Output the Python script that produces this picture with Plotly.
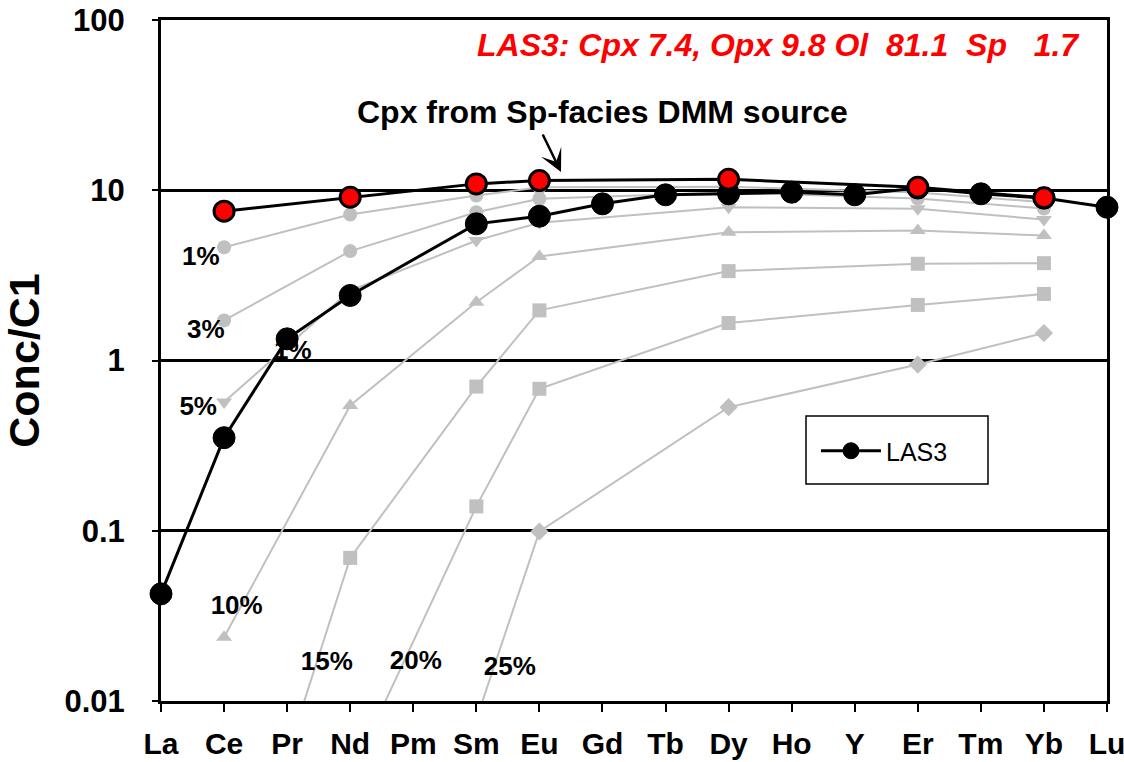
import plotly.graph_objects as go

# REE + Y order along the x axis
elements = ["La", "Ce", "Pr", "Nd", "Pm", "Sm", "Eu", "Gd", "Tb", "Dy",
            "Ho", "Y", "Er", "Tm", "Yb", "Lu"]

# Measured clinopyroxene, chondrite normalised
las3_el = ["La", "Ce", "Pr", "Nd", "Sm", "Eu", "Gd", "Tb", "Dy", "Ho",
           "Y", "Er", "Tm", "Yb", "Lu"]
las3_val = [0.0426, 0.352, 1.34, 2.41, 6.35, 7.04, 8.32, 9.40, 9.53, 9.74,
            9.40, 10.3, 9.53, 9.0, 7.95]

# Cpx in the spinel-facies DMM source
model_el = ["Ce", "Nd", "Sm", "Eu", "Dy", "Er", "Yb"]
source_val = [7.53, 9.10, 10.9, 11.4, 11.6, 10.4, 9.03]

# Residual cpx after fractional melting of the source
melt_1 = [4.63, 7.20, 9.31, 10.4, 10.5, 9.7, 8.5]
melt_3 = [1.72, 4.39, 7.43, 8.91, 9.70, 8.94, 7.81]
melt_5 = [0.57, 2.57, 5.07, 6.45, 7.95, 7.78, 6.73]
melt_10 = [0.0237, 0.544, 2.20, 4.08, 5.67, 5.80, 5.42]
melt_15 = [0.00034, 0.0693, 0.703, 1.97, 3.35, 3.70, 3.73]
melt_20_el = ["Nd", "Sm", "Eu", "Dy", "Er", "Yb"]
melt_20 = [0.0036, 0.139, 0.682, 1.66, 2.12, 2.46]
melt_25_el = ["Sm", "Eu", "Dy", "Er", "Yb"]
melt_25 = [0.0078, 0.099, 0.532, 0.947, 1.45]

# Melting-degree labels: (text, position along the element axis, value)
pct_labels = [("1%", 0.63, 3.97), ("3%", 0.71, 1.48), ("5%", 0.59, 0.52),
              ("10%", 1.2, 0.0354), ("15%", 2.63, 0.0166),
              ("20%", 4.04, 0.0168), ("25%", 5.53, 0.0155),
              ("1%", 2.09, 1.11)]

FONT = "Liberation Sans, Arial, sans-serif"
GREY = "#c0c0c0"

fig = go.Figure()

melts = [
    (model_el, melt_1, "circle"),
    (model_el, melt_3, "circle"),
    (model_el, melt_5, "triangle-down"),
    (model_el, melt_10, "triangle-up"),
    (model_el, melt_15, "square"),
    (melt_20_el, melt_20, "square"),
    (melt_25_el, melt_25, "diamond"),
]
for xs, ys, sym in melts:
    fig.add_trace(go.Scatter(
        x=xs, y=ys, mode="lines+markers", showlegend=False,
        line=dict(color=GREY, width=2),
        marker=dict(symbol=sym, size=14, color=GREY, line=dict(width=0)),
    ))

# Degree-of-melting labels drawn beneath the sample curve
fig.add_trace(go.Scatter(
    x=[p[1] for p in pct_labels],
    y=[p[2] for p in pct_labels],
    mode="text", text=[p[0] for p in pct_labels], showlegend=False,
    textfont=dict(family=FONT, size=26, color="black", weight="bold"),
    xaxis="x2", cliponaxis=False,
))

fig.add_trace(go.Scatter(
    x=las3_el, y=las3_val, mode="lines+markers", name="LAS3",
    line=dict(color="black", width=3),
    marker=dict(symbol="circle", size=22, color="black",
                line=dict(color="black", width=1)),
    cliponaxis=False,
))

fig.add_trace(go.Scatter(
    x=model_el, y=source_val, mode="lines+markers", showlegend=False,
    line=dict(color="black", width=3),
    marker=dict(symbol="circle", size=20, color="#ff0000",
                line=dict(color="black", width=3)),
    cliponaxis=False,
))

fig.update_layout(
    width=1124, height=762,
    margin=dict(l=161, r=17, t=20, b=61),
    paper_bgcolor="white", plot_bgcolor="white",
    font=dict(family=FONT, color="black"),
    xaxis=dict(
        type="category", categoryorder="array", categoryarray=elements,
        range=[0, 15], showgrid=False, showline=True, linecolor="black",
        linewidth=3, mirror=True, ticks="outside", ticklen=8, tickwidth=2,
        tickcolor="black", tickfont=dict(family=FONT, size=30, weight="bold"),
        ticklabelstandoff=6, zeroline=False, automargin=False,
    ),
    xaxis2=dict(range=[0, 15], overlaying="x", visible=False),
    yaxis=dict(
        type="log", range=[-2, 2], showline=True, linecolor="black",
        linewidth=3, mirror=True, showgrid=True, gridcolor="black",
        gridwidth=2.5, tickvals=[0.01, 0.1, 1, 10, 100],
        ticktext=["0.01", "0.1", "1", "10", "100"],
        ticks="outside", ticklen=6, tickwidth=2, tickcolor="black",
        tickfont=dict(family=FONT, size=31, weight="bold"),
        ticklabelstandoff=21, automargin=False,
        title=dict(text="Conc/C1", font=dict(family=FONT, size=43, weight="bold"),
                   standoff=12),
        zeroline=False,
    ),
    legend=dict(
        x=(816 - 161) / 946, y=(701 - 428) / 681, xanchor="left", yanchor="top",
        bgcolor="rgba(0,0,0,0)", borderwidth=0, itemwidth=60,
        font=dict(family=FONT, size=25, color="black"),
    ),
    shapes=[dict(type="rect", xref="paper", yref="paper",
                 x0=(806 - 161) / 946, x1=(988 - 161) / 946,
                 y0=(701 - 484) / 681, y1=(701 - 416) / 681,
                 line=dict(color="black", width=1.5), fillcolor="white",
                 layer="below")],
    annotations=[
        dict(text="LAS3: Cpx 7.4, Opx 9.8 Ol\u00a0\u00a081.1\u00a0\u00a0Sp\u00a0\u00a0\u00a01.7",
             xref="paper", yref="paper", x=(1082 - 161) / 946, y=(701 - 45) / 681,
             xanchor="right", yanchor="middle", showarrow=False,
             font=dict(family=FONT, size=32, color="#ff0000", weight="bold",
                       style="italic")),
        dict(text="Cpx from Sp-facies DMM source", xref="paper", yref="paper",
             x=(602 - 161) / 946, y=(701 - 112) / 681, xanchor="center",
             yanchor="middle", showarrow=False,
             font=dict(family=FONT, size=32, color="black", weight="bold")),
        dict(text="", xref="paper", yref="paper",
             x=(561 - 161) / 946, y=(701 - 172) / 681,
             ax=-19, ay=-39, showarrow=True, arrowhead=3, arrowsize=1.5,
             arrowwidth=2.5, arrowcolor="black"),
    ],
)

fig.write_html("out.html")
